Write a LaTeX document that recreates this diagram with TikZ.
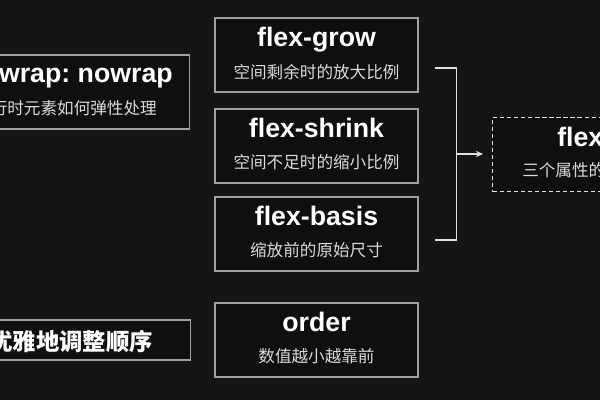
\documentclass[tikz,border=0pt]{standalone}
\usepackage{fontspec}
\setmainfont{Liberation Sans}
\newfontfamily\cjk{Noto Sans CJK SC}
\usetikzlibrary{positioning,arrows.meta}
\frenchspacing
\definecolor{bgcol}{HTML}{151515}
\definecolor{boxfill}{HTML}{0F0F0F}
\definecolor{boxline}{HTML}{A0A0A0}
\definecolor{subcol}{HTML}{DADADA}
\definecolor{linkcol}{HTML}{E0E0E0}
\tikzset{
  propbox/.style={
    rectangle,
    draw=boxline,
    fill=boxfill,
    line width=0.8pt,
    inner sep=0pt,
    minimum width=5.075cm,
    minimum height=1.85cm
  },
  sidebox/.style={propbox, minimum width=7.5cm},
  sumbox/.style={propbox, draw=linkcol, line width=1pt,
    dash pattern=on 3pt off 2pt, minimum width=6.25cm},
  ttl/.style={anchor=base, inner sep=0pt, text=white,
    font=\fontsize{19}{22}\selectfont\bfseries},
  subttl/.style={anchor=base, inner sep=0pt, text=subcol,
    font=\fontsize{11.8}{14}\selectfont\cjk},
  link/.style={draw=linkcol, line width=0.8pt}
}

\begin{document}
\begin{tikzpicture}[x=0.025cm,y=-0.025cm]
\useasboundingbox (0,0) rectangle (600,400);
\fill[bgcol] (0,0) rectangle (600,400);
\clip (0,0) rectangle (600,400);

\node[sidebox, anchor=east] (wrap) at (190,92) {};
\path (wrap.north east) ++(-17,28) node[ttl, anchor=base east] (wrap-t) {wrap: nowrap};
\path (wrap.north east) ++(-33,60) node[subttl, anchor=base east] (wrap-s) {行时元素如何弹性处理};

\node[sidebox, anchor=east, minimum height=1cm] (move) at (191,340) {};
\path (move.north east) ++(-38,31) node[anchor=base east, inner sep=0pt, text=white,
  font=\fontsize{16.6}{20}\selectfont\cjk\bfseries] (move-t) {优雅地调整顺序};

\node[propbox] (grow) at (316.5,55) {};
\path (grow.north) ++(0,29) node[ttl] (grow-t) {flex-grow}
      ++(0,32) node[subttl] (grow-s) {空间剩余时的放大比例};

\node[propbox] (shrink) at (316.5,146) {};
\path (shrink.north) ++(0,29) node[ttl] (shrink-t) {flex-shrink}
      ++(0,31) node[subttl] (shrink-s) {空间不足时的缩小比例};

\node[propbox] (basis) at (316.5,234) {};
\path (basis.north) ++(0,29.5) node[ttl] (basis-t) {flex-basis}
      ++(0,30.5) node[subttl] (basis-s) {缩放前的原始尺寸};

\node[propbox] (order) at (316.5,340) {};
\path (order.north) ++(0,29) node[ttl] (order-t) {order}
      ++(0,31) node[subttl] (order-s) {数值越小越靠前};

\node[sumbox, anchor=west] (sum) at (492,154.5) {};
\path (sum.north west) ++(65,29.5) node[ttl, anchor=base west] (sum-t) {flex};
\path (sum.north west) ++(30,60) node[subttl, anchor=base west] (sum-s) {三个属性的};

\path (grow.east) ++(16,13) coordinate (br-top);
\path (basis.east) ++(16,6) coordinate (br-bot);
\path (shrink.east) ++(38,8) coordinate (br-mid);
\draw[link] (br-top) -| (br-mid) |- (br-bot);
\draw[link, -{Stealth[length=5pt,width=4.5pt]}, shorten >=6.4pt]
  (br-mid) -- (br-mid -| sum.west);

\end{tikzpicture}
\end{document}
